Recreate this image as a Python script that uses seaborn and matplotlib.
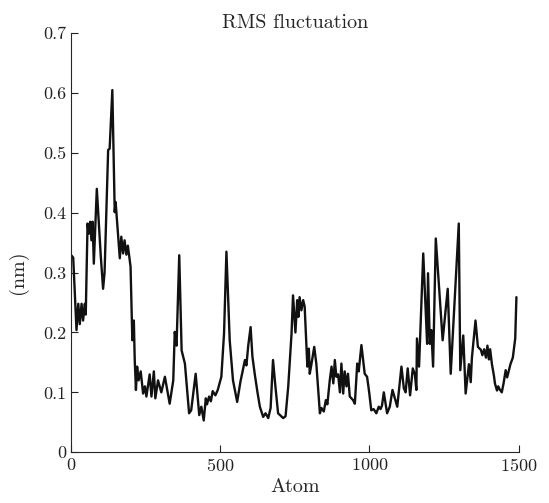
import matplotlib
matplotlib.use("Agg")
import matplotlib.pyplot as plt
import seaborn as sns
import pandas as pd
from matplotlib.ticker import FuncFormatter

# RMSF values, atom index vs fluctuation (nm)
atom = [0, 8, 19, 25, 30, 36, 41, 47, 50, 56, 60, 65, 69, 73, 77, 83, 87, 100,
        108, 113, 125, 130, 139, 147, 150, 158, 164, 169, 175, 180, 186, 191,
        200, 206, 211, 214, 218, 222, 227, 234, 242, 248, 253, 264, 270, 278,
        283, 292, 303, 315, 331, 343, 348, 354, 363, 371, 382, 396, 403, 418,
        430, 437, 445, 452, 456, 463, 469, 475, 484, 492, 504, 513, 521, 532,
        543, 557, 568, 583, 588, 594, 602, 608, 616, 625, 633, 644, 652, 661,
        669, 677, 685, 694, 711, 719, 728, 739, 744, 752, 758, 762, 766, 772,
        778, 783, 789, 792, 797, 800, 806, 815, 822, 834, 839, 847, 854, 859,
        867, 873, 879, 884, 889, 895, 901, 906, 912, 917, 923, 928, 934, 945,
        951, 959, 964, 973, 984, 992, 999, 1006, 1014, 1023, 1031, 1037, 1042,
        1048, 1059, 1068, 1077, 1085, 1093, 1107, 1115, 1121, 1128, 1136, 1145,
        1152, 1157, 1159, 1166, 1180, 1193, 1196, 1202, 1207, 1213, 1222, 1245,
        1262, 1272, 1299, 1304, 1314, 1322, 1333, 1339, 1343, 1355, 1363, 1373,
        1378, 1384, 1390, 1395, 1400, 1404, 1410, 1417, 1420, 1427, 1431, 1436,
        1443, 1449, 1456, 1461, 1466, 1472, 1480, 1488, 1492]
rmsf = [0.33, 0.325, 0.204, 0.248, 0.214, 0.248, 0.22, 0.248, 0.23, 0.382,
        0.365, 0.385, 0.354, 0.385, 0.315, 0.388, 0.44, 0.33, 0.273, 0.30,
        0.505, 0.507, 0.605, 0.401, 0.418, 0.365, 0.324, 0.36, 0.332, 0.354,
        0.33, 0.345, 0.31, 0.187, 0.22, 0.154, 0.104, 0.143, 0.12, 0.135,
        0.098, 0.11, 0.093, 0.13, 0.093, 0.135, 0.09, 0.12, 0.1, 0.126, 0.081,
        0.12, 0.201, 0.178, 0.329, 0.17, 0.148, 0.065, 0.07, 0.131, 0.062,
        0.076, 0.053, 0.09, 0.08, 0.093, 0.085, 0.102, 0.095, 0.104, 0.126,
        0.198, 0.335, 0.187, 0.12, 0.084, 0.118, 0.154, 0.145, 0.178, 0.209,
        0.16, 0.13, 0.1, 0.076, 0.059, 0.065, 0.057, 0.074, 0.154, 0.11, 0.065,
        0.057, 0.06, 0.11, 0.198, 0.262, 0.2, 0.254, 0.226, 0.259, 0.237,
        0.254, 0.243, 0.176, 0.143, 0.173, 0.131, 0.148, 0.176, 0.148, 0.065,
        0.074, 0.068, 0.087, 0.08, 0.12, 0.143, 0.115, 0.154, 0.126, 0.13, 0.1,
        0.148, 0.098, 0.135, 0.11, 0.131, 0.093, 0.087, 0.081, 0.148, 0.135,
        0.179, 0.131, 0.126, 0.1, 0.07, 0.072, 0.065, 0.076, 0.072, 0.078, 0.1,
        0.065, 0.076, 0.104, 0.09, 0.076, 0.143, 0.107, 0.1, 0.14, 0.095, 0.14,
        0.13, 0.104, 0.19, 0.143, 0.332, 0.181, 0.299, 0.181, 0.204, 0.143,
        0.357, 0.187, 0.273, 0.131, 0.382, 0.137, 0.195, 0.098, 0.147, 0.117,
        0.158, 0.22, 0.176, 0.171, 0.162, 0.172, 0.158, 0.178, 0.155, 0.172,
        0.147, 0.127, 0.115, 0.103, 0.11, 0.105, 0.1, 0.115, 0.137, 0.125,
        0.135, 0.147, 0.158, 0.19, 0.259]

x_ticks = [0, 500, 1000, 1500]
y_ticks = [0, 0.1, 0.2, 0.3, 0.4, 0.5, 0.6, 0.7]

df = pd.DataFrame({"Atom": atom, "RMSF": rmsf})

sns.set_style("ticks")
plt.rcParams["font.family"] = ["cmr10", "DejaVu Serif"]
plt.rcParams["mathtext.fontset"] = "cm"
plt.rcParams["axes.formatter.use_mathtext"] = True
plt.rcParams["xtick.direction"] = "in"
plt.rcParams["ytick.direction"] = "in"

fig = plt.figure(figsize=(5.49, 5.03), dpi=100)
ax = fig.add_axes([0.129, 0.101, 0.816, 0.833])

sns.lineplot(data=df, x="Atom", y="RMSF", color="#111111", linewidth=1.7, ax=ax)

ax.set_xlim(0, 1500)
ax.set_ylim(0, 0.7)
ax.set_xticks(x_ticks)
ax.set_yticks(y_ticks)
ax.yaxis.set_major_formatter(FuncFormatter(lambda v, p: "%g" % round(v, 2)))
ax.tick_params(labelsize=13, length=5, width=0.8, colors="#222222")
for s in ["left", "bottom"]:
    ax.spines[s].set_linewidth(0.8)
sns.despine(ax=ax)

ax.set_xlabel("Atom", fontsize=14.5, labelpad=3)
ax.set_ylabel("(nm)", fontsize=14.5, labelpad=8)
ax.yaxis.set_label_coords(-0.095, 0.43)
ax.set_title("RMS fluctuation", fontsize=14.5, pad=4)

fig.savefig("out.png", dpi=100)
